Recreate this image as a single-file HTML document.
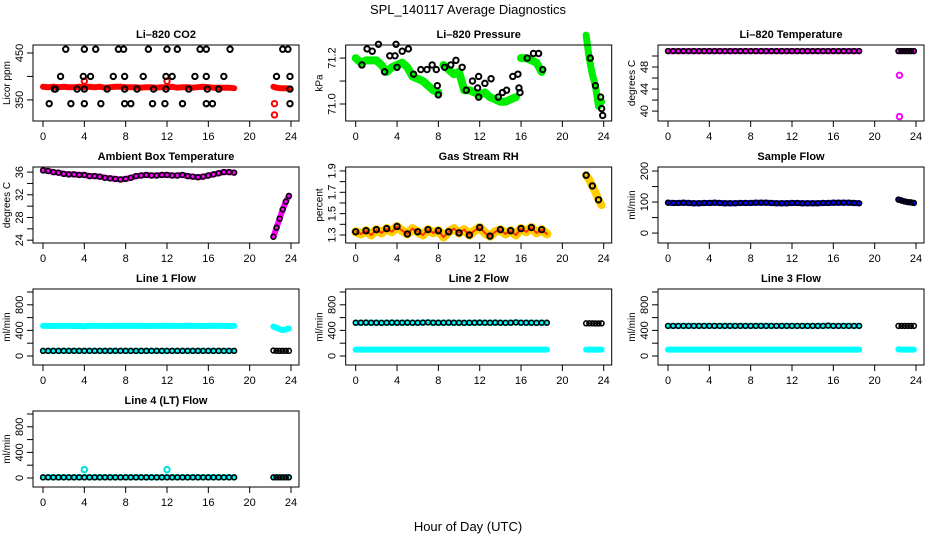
<!DOCTYPE html>
<html><head><meta charset="utf-8"><title>SPL_140117 Average Diagnostics</title>
<style>
html,body{margin:0;padding:0;background:#fff;}
svg{display:block;font-family:"Liberation Sans",Arial,sans-serif;}
</style></head>
<body>
<svg id="chart" width="936" height="540" viewBox="0 0 936 540" xmlns="http://www.w3.org/2000/svg">
<rect x="0" y="0" width="936" height="540" fill="#fff"/>
<text x="468" y="14" text-anchor="middle" font-size="13">SPL_140117  Average Diagnostics</text>
<text x="468" y="531" text-anchor="middle" font-size="13">Hour of Day (UTC)</text>
</svg>
<script>
// time categories (hours)
const T1 = [0,0.5,1,1.5,2,2.5,3,3.5,4,4.5,5,5.5,6,6.5,7,7.5,8,8.5,9,9.5,10,10.5,11,11.5,12,12.5,13,13.5,14,14.5,15,15.5,16,16.5,17,17.5,18,18.5];
const T2 = [22.3,22.6,22.9,23.2,23.5,23.8];
const xTicks = [0,4,8,12,16,20,24];

// CO2
const co2Red1 = [378,377,378,377,378,377,377,378,377,378,377,378,376,377,378,378,377,377,377,376,377,377,376,377,377,378,376,377,377,376,377,378,377,376,376,376,376,375];
const co2Red2 = [378,376,375,375,375,374];
const co2OutT = [4,12,22.4,22.4];
const co2OutV = [390,390,342,318];
const co2BlkT = [2.2,4,5.1,7.3,7.8,10.2,12,13,15.2,15.8,18.1,23.2,23.7, 1.7,3.9,4.6,6.8,7.9,9.7,11.9,12.5,14.7,15.8,17.5,22.6,23.9, 1.1,1.2,3.3,4,6.2,7.9,9.1,10.7,11.9,14.1,15.9,17,23.9, 0.6,2.7,4,5.6,7.9,8.5,10.6,11.8,13.5,15.8,16.4,23.9];
const co2BlkV = [458,458,458,458,458,458,458,458,458,458,458,458,458, 400,400,400,400,400,400,400,400,400,400,400,400,400, 373,373,373,373,373,373,373,373,373,373,373,373,373, 342,342,342,342,342,342,342,342,342,342,342,342];

// Pressure
const presG1 = [71.20,71.18,71.19,71.19,71.19,71.17,71.14,71.16,71.17,71.18,71.16,71.12,71.11,71.10,71.08,71.06,71.05,71.17,71.15,71.13,71.14,71.06,71.06,71.05,71.04,71.05,71.03,71.02,71.01,71.01,71.02,71.03,71.20,71.20,71.19,71.18,71.14,71.05];
const presG2 = [71.30,71.20,71.13,71.08,70.99,71.01];
const presBlkT = [0.6,1.1,1.6,2.2,2.8,3.3,3.8,3.9,4,4.5,5.1,5.6,6.3,6.9,7.4,7.8,7.9,8,8.6,9.2,9.7,10.3,10.7,11.3,11.8,11.9,11.9,12.5,13.1,13.8,14.2,14.6,15.2,15.7,15.8,15.9,16.6,17.2,17.7,18.1,22.7,23.2,23.7,23.8,23.9];
const presBlkV = [71.17,71.24,71.23,71.26,71.14,71.21,71.21,71.26,71.16,71.23,71.24,71.13,71.15,71.15,71.17,71.15,71.08,71.04,71.16,71.17,71.19,71.16,71.06,71.10,71.07,71.12,71.03,71.09,71.11,71.03,71.05,71.06,71.12,71.13,71.07,71.05,71.20,71.22,71.22,71.15,71.20,71.08,71.03,70.98,70.95];

// Li-820 temperature
const tempM1 = [50.9,50.9,50.9,50.9,50.9,50.9,50.9,50.9,50.9,50.9,50.9,50.9,50.9,50.9,50.9,50.9,50.9,50.9,50.9,50.9,50.9,50.9,50.9,50.9,50.9,50.9,50.9,50.9,50.9,50.9,50.9,50.9,50.9,50.9,50.9,50.9,50.9,50.9];
const tempM2 = [50.9,50.9,50.9,50.9,50.9,50.9];
const tempOutT = [22.4,22.4];
const tempOutV = [46.5,39.0];

// Ambient box temperature
const ambM1 = [36.3,36.2,36.0,35.9,35.7,35.6,35.6,35.5,35.5,35.3,35.3,35.2,35.0,34.9,34.8,34.7,34.8,35.0,35.3,35.4,35.5,35.4,35.4,35.5,35.5,35.4,35.4,35.5,35.3,35.2,35.1,35.2,35.4,35.6,35.8,36.0,36.0,35.9];
const ambM2 = [24.6,26.2,27.8,29.4,30.8,31.8];

// Gas stream RH
const rh1 = [1.33,1.31,1.34,1.30,1.35,1.32,1.36,1.33,1.38,1.34,1.31,1.36,1.33,1.30,1.35,1.32,1.34,1.28,1.33,1.36,1.32,1.35,1.30,1.34,1.37,1.32,1.29,1.33,1.35,1.31,1.34,1.30,1.36,1.33,1.37,1.32,1.35,1.31];
const rh2 = [1.86,1.82,1.76,1.70,1.63,1.58];

// Sample flow
const sf1 = [98,97,97,98,97,96,96,97,97,98,97,96,96,96,97,97,97,98,98,98,97,96,96,96,97,97,96,96,96,96,97,97,98,98,98,98,97,96];
const sf2 = [108,105,102,100,99,97];

// Line flows
const l1Cyan1 = [470,470,468,470,472,470,468,470,466,470,472,470,470,468,470,472,470,470,472,470,468,470,470,472,470,470,468,470,472,470,470,468,470,472,470,470,468,470];
const l1Cyan2 = [460,440,420,405,415,430];
const l1Blk1 = [80,80,80,80,80,80,80,80,80,80,80,80,80,80,80,80,80,80,80,80,80,80,80,80,80,80,80,80,80,80,80,80,80,80,80,80,80,80];
const l1Blk2 = [85,80,80,80,80,80];
const l2Blk1 = [520,520,522,520,520,518,520,522,520,520,522,520,520,522,525,520,520,520,522,520,520,518,520,520,522,520,520,522,520,518,520,525,520,520,520,518,520,520];
const l2Blk2 = [510,510,510,508,508,510];
const l2Cyan1 = [100,100,100,100,100,100,100,100,100,100,100,100,100,100,100,100,100,100,100,100,100,100,100,100,100,100,100,100,100,100,100,100,100,100,100,100,100,100];
const l2Cyan2 = [100,100,100,100,100,100];
const l3Blk1 = [470,470,470,470,470,470,470,470,470,470,470,470,470,470,470,470,470,470,470,470,470,470,470,470,470,470,470,470,470,470,470,475,470,470,470,470,470,470];
const l3Blk2 = [470,470,470,470,470,470];
const l3Cyan1 = [100,100,100,100,100,100,100,100,100,100,100,100,100,100,100,100,100,100,100,100,100,100,100,100,100,100,100,100,100,100,100,100,100,100,100,100,100,100];
const l3Cyan2 = [105,100,100,100,100,100];
const l4Blk1 = [10,10,10,10,10,10,10,10,10,10,10,10,10,10,10,10,10,10,10,10,10,10,10,10,10,10,10,10,10,10,10,10,10,10,10,10,10,10];
const l4Blk2 = [10,10,10,10,10,10];
const l4OutT = [4,12];
const l4OutV = [130,130];

const svg = document.getElementById('chart');
const NS = 'http://www.w3.org/2000/svg';
function mk(tag, attrs, parent){
  const e = document.createElementNS(NS, tag);
  for (const k in attrs) e.setAttribute(k, attrs[k]);
  (parent||svg).appendChild(e);
  return e;
}

function panel(col,row,name,title,ylab,domain,yTicks,yLabels){
  const L = [33,345.7,658][col], T = 45 + 122*row, W = 266, H = 76;
  const g = mk('g',{});
  
  
  const sx = h => L + 10 + h*(248/24);
  const sy = v => T + H - (v-domain[0])/(domain[1]-domain[0])*H;
  const tt = mk('text',{x:L+W/2,y:T-7,'text-anchor':'middle','font-size':11,'font-weight':'bold'},g);
  tt.textContent = title;
  
  
  xTicks.forEach(h=>{
    mk('line',{x1:sx(h),x2:sx(h),y1:T+H,y2:T+H+6,stroke:'#000','stroke-width':1},g);
    const t = mk('text',{x:sx(h),y:T+H+19,'text-anchor':'middle','font-size':11},g);
    t.textContent = h;
    
    
  });
  yTicks.forEach(v=>{
    mk('line',{x1:L-6,x2:L,y1:sy(v),y2:sy(v),stroke:'#000','stroke-width':1},g);
  });
  yLabels.forEach(v=>{
    const t = mk('text',{x:0,y:0,'text-anchor':'middle','font-size':11,transform:`translate(${L-10},${sy(v)}) rotate(-90)`},g);
    t.textContent = v;
    
    
  });
  const yl = mk('text',{x:0,y:0,'text-anchor':'middle','font-size':10,transform:`translate(${L-23},${T+H/2}) rotate(-90)`},g);
  yl.textContent = ylab;
  
  
  const plot = mk('g',{},g);
  
  
  const box = mk('rect',{x:L,y:T,width:W,height:H,fill:'none',stroke:'#000','stroke-width':1},g);
  
  
  return {sx,sy,g:plot};
}

function band(p,T,V,color,w,name){
  const pts = T.map((t,i)=>p.sx(t).toFixed(1)+','+p.sy(V[i]).toFixed(1)).join(' ');
  const e = mk('polyline',{points:pts,fill:'none',stroke:color,'stroke-width':w,'stroke-linecap':'round','stroke-linejoin':'round'},p.g);
  
  
}
function dots(p,T,V,color,name,step,r,sw){
  step = step||1;
  for(let i=0;i<T.length;i+=step){
    const c = mk('circle',{cx:p.sx(T[i]),cy:p.sy(V[i]),r:r||2.7,fill:'none',stroke:color,'stroke-width':sw||2},p.g);
    
    
  }
}

// Row 1
let p = panel(0,0,'co2-panel','Li\u2013820 CO2','Licor ppm',[305,467],[350,400,450],[350,450]);
band(p,T1,co2Red1,'#ff0000',6,'co2-red-series');
band(p,T2,co2Red2,'#ff0000',6,'co2-red-series');
dots(p,co2OutT,co2OutV,'#ff0000','co2-red-point');
dots(p,co2BlkT,co2BlkV,'#000','co2-black-point');

p = panel(1,0,'pressure-panel','Li\u2013820 Pressure','kPa',[70.926,71.257],[71.0,71.1,71.2],['71.0','71.2']);
band(p,T1.slice(0,17),presG1.slice(0,17),'#00ee00',8,'pressure-green-series');
band(p,T1.slice(17,32),presG1.slice(17,32),'#00ee00',8,'pressure-green-series');
band(p,T1.slice(32,37),presG1.slice(32,37),'#00ee00',8,'pressure-green-series');
band(p,T1.slice(37),presG1.slice(37),'#00ee00',8,'pressure-green-series');
band(p,T2,presG2,'#00ee00',7,'pressure-green-series');
dots(p,presBlkT,presBlkV,'#000','pressure-black-point');

p = panel(2,0,'temperature-panel','Li\u2013820 Temperature','degrees C',[38.2,52],[40,42,44,46,48,50],[40,44,48]);
band(p,T1,tempM1,'#ff00ff',6,'temperature-magenta-series');
band(p,T2,tempM2,'#ff00ff',6,'temperature-magenta-series');
dots(p,T1,tempM1,'#000','temperature-black-point',1,2.4,1.6);
dots(p,T2,tempM2,'#000','temperature-black-point',1,2.4,1.6);
dots(p,tempOutT,tempOutV,'#ff00ff','temperature-magenta-point');

// Row 2
p = panel(0,1,'ambient-panel','Ambient Box Temperature','degrees C',[23.5,36.9],[24,26,28,30,32,34,36],[24,28,32,36]);
band(p,T1,ambM1,'#ff00ff',6,'ambient-magenta-series');
band(p,T2,ambM2,'#ff00ff',6,'ambient-magenta-series');
dots(p,T1,ambM1,'#000','ambient-black-point',1,2.4,1.6);
dots(p,T2,ambM2,'#000','ambient-black-point',1,2.4,1.6);

p = panel(1,1,'rh-panel','Gas Stream RH','percent',[1.225,1.937],[1.3,1.4,1.5,1.6,1.7,1.8,1.9],['1.3','1.5','1.7','1.9']);
band(p,T1,rh1,'#ffcc00',9,'rh-yellow-series');
band(p,T1,rh1,'#ff3300',2,'rh-red-series');
band(p,T2,rh2,'#ffcc00',8,'rh-yellow-series');
dots(p,T1,rh1,'#000','rh-black-point',2);
dots(p,T2,rh2,'#000','rh-black-point',2);

p = panel(2,1,'sample-flow-panel','Sample Flow','ml/min',[-32,213],[0,50,100,150,200],[0,100,200]);
band(p,T1,sf1,'#0000ff',6,'sample-flow-blue-series');
band(p,T2,sf2,'#0000ff',6,'sample-flow-blue-series');
dots(p,T1,sf1,'#000','sample-flow-black-point',1,2.4,1.6);
dots(p,T2,sf2,'#000','sample-flow-black-point',1,2.4,1.6);

// Row 3
const fd = [-141,1047], ft = [0,200,400,600,800,1000], fl = [0,400,800];
p = panel(0,2,'line1-flow-panel','Line 1 Flow','ml/min',fd,ft,fl);
band(p,T1,l1Cyan1,'#00ffff',6,'line1-cyan-series');
band(p,T2,l1Cyan2,'#00ffff',6,'line1-cyan-series');
band(p,T1,l1Blk1,'#00ffff',6,'line1-cyan-low-series');
dots(p,T1,l1Blk1,'#000','line1-black-point',1,2.4,1.6);
dots(p,T2,l1Blk2,'#000','line1-black-point',1,2.4,1.6);

p = panel(1,2,'line2-flow-panel','Line 2 Flow','ml/min',fd,ft,fl);
band(p,T1,l2Cyan1,'#00ffff',6,'line2-cyan-series');
band(p,T2,l2Cyan2,'#00ffff',6,'line2-cyan-series');
band(p,T1,l2Blk1,'#00ffff',6,'line2-cyan-high-series');
dots(p,T1,l2Blk1,'#000','line2-black-point',1,2.4,1.6);
dots(p,T2,l2Blk2,'#000','line2-black-point',1,2.4,1.6);

p = panel(2,2,'line3-flow-panel','Line 3 Flow','ml/min',fd,ft,fl);
band(p,T1,l3Cyan1,'#00ffff',6,'line3-cyan-series');
band(p,T2,l3Cyan2,'#00ffff',6,'line3-cyan-series');
band(p,T1,l3Blk1,'#00ffff',6,'line3-cyan-high-series');
dots(p,T1,l3Blk1,'#000','line3-black-point',1,2.4,1.6);
dots(p,T2,l3Blk2,'#000','line3-black-point',1,2.4,1.6);

// Row 4
p = panel(0,3,'line4-flow-panel','Line 4 (LT) Flow','ml/min',fd,ft,fl);
band(p,T1,l4Blk1,'#00ffff',6,'line4-cyan-series');
band(p,T2,l4Blk2,'#00ffff',6,'line4-cyan-series');
dots(p,T1,l4Blk1,'#000','line4-black-point',1,2.4,1.6);
dots(p,T2,l4Blk2,'#000','line4-black-point',1,2.4,1.6);
dots(p,l4OutT,l4OutV,'#00dddd','line4-cyan-point');
</script>
</body></html>
